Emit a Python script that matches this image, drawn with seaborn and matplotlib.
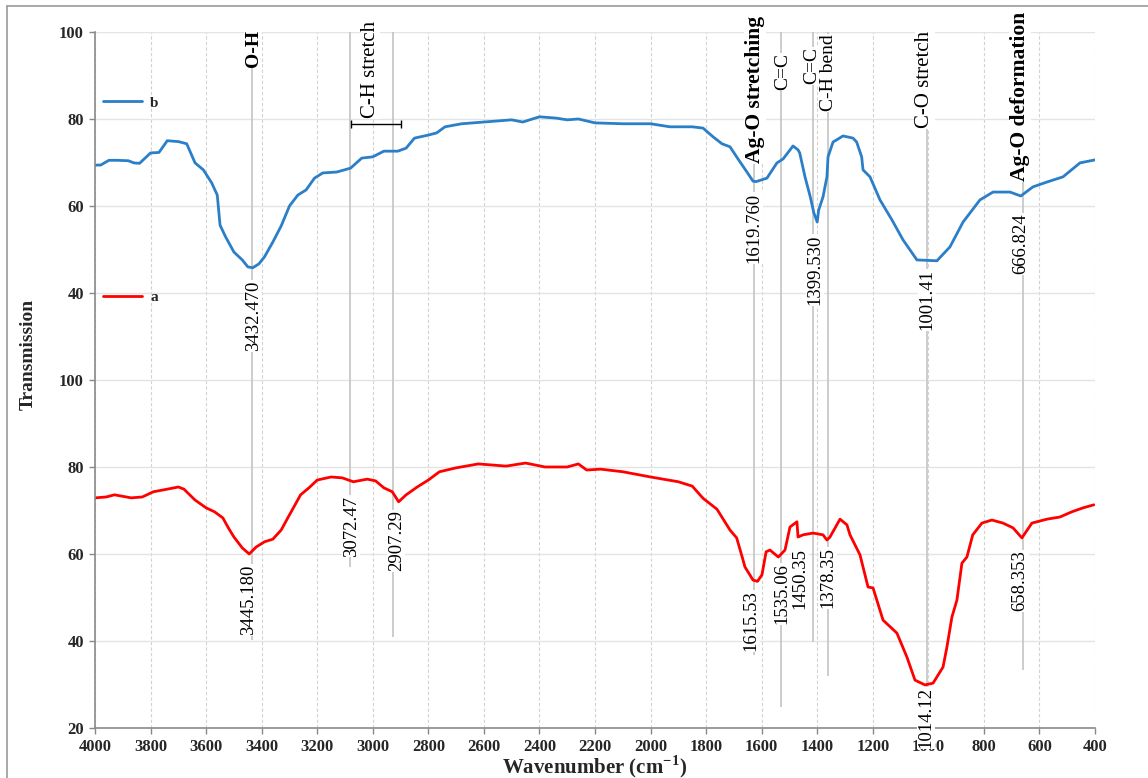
import matplotlib.pyplot as plt
import pandas as pd
import seaborn as sns
from matplotlib.lines import Line2D

# FTIR spectra (wavenumber in cm-1, transmission in %)
wn_b = [4000, 3980, 3950, 3920, 3880, 3860, 3840, 3800, 3770, 3740, 3700, 3670,
        3640, 3610, 3580, 3560, 3550, 3530, 3500, 3470, 3450, 3432, 3410, 3390,
        3360, 3330, 3300, 3270, 3240, 3210, 3180, 3130, 3080, 3040, 3000, 2960,
        2910, 2880, 2850, 2800, 2770, 2740, 2680, 2600, 2500, 2460, 2400, 2340,
        2300, 2260, 2200, 2100, 2000, 1930, 1850, 1811, 1775, 1743, 1714, 1685,
        1653, 1631, 1620, 1581, 1545, 1523, 1487, 1469, 1463, 1444, 1425, 1412,
        1400, 1395, 1379, 1365, 1361, 1343, 1307, 1271, 1258, 1240, 1235, 1210,
        1174, 1131, 1091, 1041, 969, 922, 875, 814, 767, 706, 667, 623, 573, 515,
        454, 400]
t_b = [69.4, 69.4, 70.5, 70.5, 70.4, 69.9, 69.8, 72.2, 72.3, 75.0, 74.8, 74.3,
       69.9, 68.3, 65.3, 62.5, 55.6, 52.9, 49.4, 47.6, 46.0, 45.8, 46.7, 48.3,
       51.7, 55.4, 60.0, 62.5, 63.7, 66.4, 67.6, 67.8, 68.7, 71.0, 71.3, 72.6,
       72.6, 73.3, 75.6, 76.3, 76.8, 78.2, 78.9, 79.3, 79.8, 79.3, 80.5, 80.2,
       79.8, 80.0, 79.1, 78.9, 78.9, 78.2, 78.2, 77.9, 75.9, 74.3, 73.6, 70.8,
       67.8, 65.7, 65.6, 66.4, 69.9, 70.8, 73.8, 72.9, 72.2, 66.7, 62.1, 58.4,
       56.3, 59.0, 62.1, 66.7, 71.3, 74.7, 76.1, 75.6, 74.7, 71.3, 68.3, 66.7,
       61.4, 56.8, 52.2, 47.6, 47.4, 50.6, 56.3, 61.4, 63.2, 63.2, 62.3, 64.4,
       65.5, 66.7, 69.9, 70.6]

wn_a = [4000, 3960, 3930, 3870, 3830, 3790, 3740, 3700, 3680, 3640, 3600, 3570,
        3540, 3520, 3500, 3470, 3445, 3420, 3390, 3360, 3330, 3300, 3260, 3230,
        3200, 3150, 3110, 3070, 3020, 2990, 2960, 2930, 2907, 2880, 2840, 2800,
        2760, 2700, 2620, 2520, 2450, 2380, 2300, 2260, 2230, 2180, 2100, 2000,
        1900, 1850, 1811, 1761, 1714, 1690, 1671, 1660, 1631, 1615, 1599, 1584,
        1570, 1540, 1516, 1498, 1473, 1469, 1451, 1415, 1379, 1365, 1354, 1318,
        1293, 1282, 1246, 1217, 1199, 1163, 1113, 1077, 1048, 1012, 983, 947,
        933, 915, 897, 879, 861, 840, 807, 771, 731, 695, 663, 627, 573, 526,
        483, 443, 404]
t_a = [72.9, 73.1, 73.6, 72.9, 73.1, 74.3, 74.9, 75.4, 74.9, 72.4, 70.6, 69.7,
       68.3, 66.0, 63.9, 61.4, 60.0, 61.6, 62.8, 63.4, 65.5, 69.0, 73.6, 75.2,
       77.0, 77.7, 77.5, 76.6, 77.2, 76.8, 75.2, 74.3, 72.0, 73.6, 75.4, 77.0,
       78.9, 79.8, 80.7, 80.2, 80.9, 80.0, 80.0, 80.7, 79.3, 79.5, 78.9, 77.7,
       76.6, 75.6, 72.8, 70.3, 65.5, 63.7, 59.5, 57.0, 54.0, 53.7, 55.2, 60.5,
       60.9, 59.3, 60.9, 66.2, 67.4, 63.9, 64.4, 64.8, 64.4, 63.2, 63.9, 68.0,
       66.7, 64.4, 59.8, 52.4, 52.2, 44.8, 41.8, 36.3, 31.0, 29.9, 30.3, 34.0,
       38.6, 45.5, 49.4, 57.9, 59.3, 64.4, 67.1, 67.8, 67.1, 66.0, 63.7, 67.1,
       68.0, 68.5, 69.7, 70.6, 71.3]

OFFSET = 80  # spectrum b is stacked above a

y_ticks = [20, 40, 60, 80, 100, 120, 140, 160, 180]
y_tick_labels = ["20", "40", "60", "80", "100", "40", "60", "80", "100"]
x_ticks = list(range(400, 4001, 200))

# peak labels: (text, x, y) in plot coords
peak_labels = [
    ("3432.470", 3431, 114.7), ("1619.760", 1628, 134.9), ("1399.530", 1408, 125.3),
    ("1001.41", 1005, 118.4), ("666.824", 666, 131.3),
    ("3445.180", 3449, 49.4), ("3072.47", 3078, 66.4), ("2907.29", 2916, 63.0),
    ("1615.53", 1638, 44.6), ("1535.06", 1527, 50.8), ("1450.35", 1462, 54.3),
    ("1378.35", 1361, 54.5), ("1014.12", 1008, 22.3), ("658.353", 670, 53.8),
]
# band assignments: (text, x, y, size, weight)
band_labels = [
    ("O-H", 3431, 176.3, 14, "bold"),
    ("C-H stretch", 3010, 171.3, 15, "normal"),
    ("Ag-O stretching", 1624, 166.7, 15.5, "bold"),
    ("C=C", 1523, 170.8, 14, "normal"),
    ("C=C", 1419, 172.2, 14, "normal"),
    ("C-H bend", 1358, 170.6, 14, "normal"),
    ("C-O stretch", 1012, 169.0, 15, "normal"),
    ("Ag-O deformation", 670, 165.1, 15.5, "bold"),
]
# drop lines at peaks: (x, lower end)
drop_x = [3435, 3082, 2927, 1628, 1530, 1415, 1361, 1005, 659]
drop_lo = [40.2, 57.0, 40.9, 36.8, 24.8, 39.8, 32.0, 20.0, 33.3]

df_a = pd.DataFrame({"wn": wn_a, "T": t_a})
df_b = pd.DataFrame({"wn": wn_b, "T": [v + OFFSET for v in t_b]})

sns.set_theme(style="white")
plt.rcParams["font.family"] = ["Liberation Serif", "DejaVu Serif"]
plt.rcParams["mathtext.fontset"] = "custom"
plt.rcParams["mathtext.rm"] = "Liberation Serif"
plt.rcParams["mathtext.bf"] = "Liberation Serif:bold"

fig = plt.figure(figsize=(11.48, 7.78), dpi=100)
ax = fig.add_axes([0.0828, 0.0643, 0.871, 0.8946])

ax.vlines(drop_x, drop_lo, 180, color="#c4c4c4", lw=1.2, zorder=1.5)

sns.lineplot(data=df_b, x="wn", y="T", ax=ax, color="#2a7fc8", lw=2, label="b")
sns.lineplot(data=df_a, x="wn", y="T", ax=ax, color="#ff0000", lw=2, label="a")

ax.errorbar([(3072.47 + 2907.29) / 2], [158.9], xerr=[90], color="black",
            lw=1, capsize=3, capthick=1, zorder=4)

ax.set_xlim(4000, 400)
ax.set_ylim(20, 180)
ax.set_xticks(x_ticks)
ax.set_yticks(y_ticks)
ax.set_yticklabels(y_tick_labels)
for lab in ax.get_xticklabels() + ax.get_yticklabels():
    lab.set_fontweight("bold")
    lab.set_fontsize(12)
ax.tick_params(axis="both", direction="out", length=4, width=1, color="#888888",
               bottom=True, left=True, pad=4)

ax.yaxis.grid(True, color="#e4e4e4", lw=1, ls="-")
ax.xaxis.grid(True, color="#d2d2d2", lw=0.8, ls=(0, (3, 2)))
ax.set_axisbelow(True)
for s in ["top", "right"]:
    ax.spines[s].set_visible(False)
for s in ["left", "bottom"]:
    ax.spines[s].set_color("#8a8a8a")
    ax.spines[s].set_linewidth(1.2)

ax.set_xlabel(r"Wavenumber (cm$^{\mathbf{-1}}$)", fontsize=15, fontweight="bold")
ax.set_ylabel("Transmission", fontsize=14, fontweight="bold")
ax.xaxis.set_label_coords(0.5, -0.036)
ax.yaxis.set_label_coords(-0.058, 0.536)

for txt, x, y in peak_labels:
    ax.text(x, y, txt, rotation=90, ha="center", va="center", fontsize=13.5,
            color="black", zorder=6, clip_on=False,
            bbox=dict(fc="white", ec="none", pad=0.6))
for txt, x, y, size, weight in band_labels:
    ax.text(x, y, txt, rotation=90, ha="center", va="center", fontsize=size,
            fontweight=weight, color="black", zorder=6, clip_on=False,
            bbox=dict(fc="white", ec="none", pad=0.6))

# two separate legend entries, one beside each spectrum
handles, labels = ax.get_legend_handles_labels()
leg_b = ax.legend([handles[0]], [labels[0]], loc="center left",
                  bbox_to_anchor=(0.0, 0.898), frameon=False, handlelength=2.6,
                  prop={"weight": "bold", "size": 11}, borderpad=0, handletextpad=0.5)
ax.add_artist(leg_b)
ax.legend([handles[1]], [labels[1]], loc="center left",
          bbox_to_anchor=(0.0, 0.619), frameon=False, handlelength=2.6,
          prop={"weight": "bold", "size": 11}, borderpad=0, handletextpad=0.5)

# outer chart frame (top and left edges visible in the original)
fig.add_artist(Line2D([0.006, 1.0], [0.992, 0.992], color="#9a9a9a", lw=1.2))
fig.add_artist(Line2D([0.006, 0.006], [0.0, 0.992], color="#9a9a9a", lw=1.2))

fig.savefig("out.png", dpi=100)
